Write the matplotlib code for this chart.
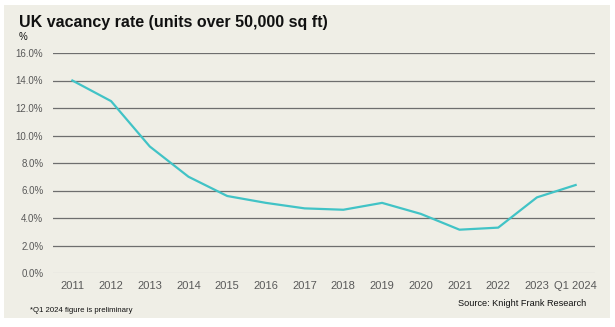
import matplotlib.pyplot as plt
from matplotlib.patches import Rectangle

plt.rcParams['font.family'] = ['Liberation Sans', 'DejaVu Sans']

periods = ['2011', '2012', '2013', '2014', '2015', '2016', '2017', '2018',
           '2019', '2020', '2021', '2022', '2023', 'Q1 2024']
vacancy = [14.0, 12.5, 9.2, 7.0, 5.6, 5.1, 4.7, 4.6, 5.1, 4.3, 3.15, 3.3, 5.5, 6.4]
y_ticks = [0, 2, 4, 6, 8, 10, 12, 14, 16]

bg = '#efeee6'
fig = plt.figure(figsize=(6.15, 3.27), dpi=100, facecolor='white')
fig.patches.append(Rectangle((4 / 615, 1 - 318 / 327), 606 / 615, 313 / 327,
                             transform=fig.transFigure, facecolor=bg,
                             edgecolor='none', zorder=-1))

ax = fig.add_axes([53 / 615, 1 - 273 / 327, 542 / 615, 220 / 327])
ax.set_facecolor('none')

x = list(range(len(periods)))
ax.plot(x, vacancy, color='#41c3c6', linewidth=1.6, zorder=3)

for t in y_ticks:
    ax.axhline(t, color='#d4d4d0' if t == 0 else '#6e6e6e',
               linewidth=0.9, zorder=1)

ax.set_xlim(-0.5, len(periods) - 0.5)
ax.set_ylim(0, 16)
ax.set_yticks(y_ticks)
ax.set_yticklabels([f'{t:.1f}%' for t in y_ticks])
ax.set_xticks(x)
ax.set_xticklabels(periods)
ax.tick_params(axis='both', length=0, colors='#595959')
ax.tick_params(axis='y', labelsize=7, pad=7)
ax.tick_params(axis='x', labelsize=8, pad=6)
for s in ax.spines.values():
    s.set_visible(False)

fig.text(19 / 615, 1 - 22 / 327, 'UK vacancy rate (units over 50,000 sq ft)',
         fontsize=11.5, fontweight='bold', va='center', ha='left', color='#111111')
fig.text(19 / 615, 1 - 37 / 327, '%', fontsize=7, va='center', ha='left', color='#111111')
fig.text(586 / 615, 1 - 303 / 327, 'Source: Knight Frank Research',
         fontsize=6.6, va='center', ha='right', color='#111111')
fig.text(30 / 615, 1 - 311 / 327, '*Q1 2024 figure is preliminary',
         fontsize=5.6, va='center', ha='left', color='#111111')

fig.savefig('out.png', dpi=100, facecolor='white')
